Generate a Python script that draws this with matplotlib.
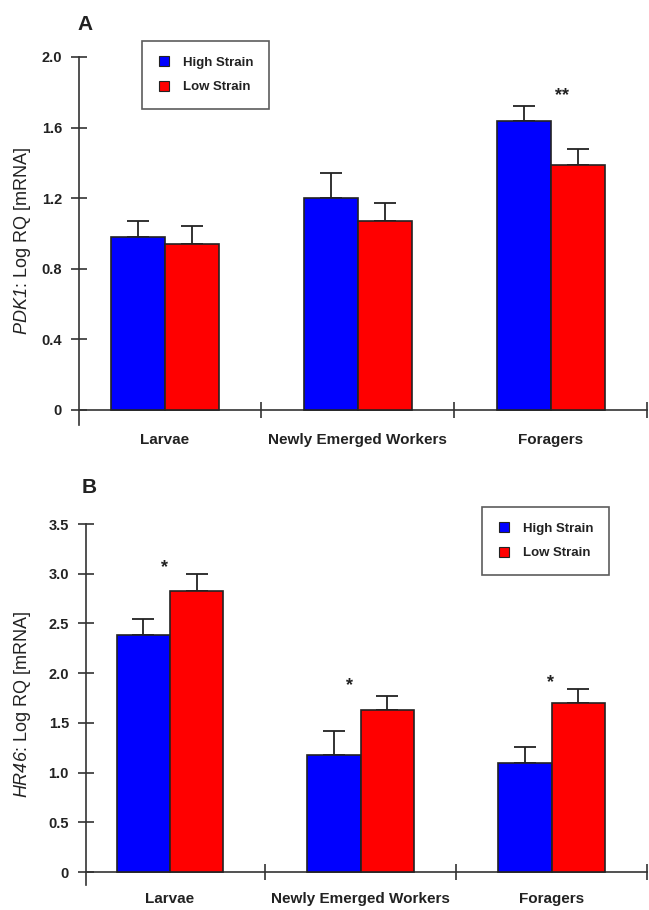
import numpy as np
import matplotlib.pyplot as plt
from matplotlib.lines import Line2D
from matplotlib.ticker import FuncFormatter

plt.rcParams['font.family'] = ['Liberation Sans', 'DejaVu Sans']
# gene names are set fully in italic, digits included
plt.rcParams['mathtext.fontset'] = 'custom'
plt.rcParams['mathtext.rm'] = 'Liberation Sans:italic'
plt.rcParams['mathtext.it'] = 'Liberation Sans:italic'
plt.rcParams['mathtext.bf'] = 'Liberation Sans:bold'

groups = ['Larvae', 'Newly Emerged Workers', 'Foragers']
strains = ['High Strain', 'Low Strain']

# PDK1 expression (log RQ) with upper SE
pdk1_high = [0.98, 1.20, 1.64]
pdk1_high_err = [0.09, 0.14, 0.08]
pdk1_low = [0.94, 1.07, 1.39]
pdk1_low_err = [0.10, 0.10, 0.09]

# HR46 expression (log RQ) with upper SE
hr46_high = [2.38, 1.18, 1.10]
hr46_high_err = [0.16, 0.24, 0.16]
hr46_low = [2.83, 1.63, 1.70]
hr46_low_err = [0.17, 0.14, 0.14]

# significance marks: (group position, height, text)
pdk1_marks = [(2.06, 1.78, '**')]
hr46_marks = [(-0.03, 3.06, '*'), (0.94, 1.88, '*'), (1.995, 1.91, '*')]

blue = '#0000ff'
red = '#ff0000'
ink = '#222222'
width = 0.28


def draw_panel(ax, high, high_err, low, low_err, marks, yticks, ymin, xmin, label_pad):
    x = np.arange(len(groups))
    ax.bar(x - width / 2, high, width, color=blue, edgecolor=ink, linewidth=1.2, zorder=3)
    ax.bar(x + width / 2, low, width, color=red, edgecolor=ink, linewidth=1.2, zorder=3)
    zeros = np.zeros(len(groups))
    ax.errorbar(x - width / 2, high, yerr=[zeros, high_err], fmt='none', ecolor=ink,
                elinewidth=1.3, capsize=8, capthick=1.3, zorder=2)
    ax.errorbar(x + width / 2, low, yerr=[zeros, low_err], fmt='none', ecolor=ink,
                elinewidth=1.3, capsize=8, capthick=1.3, zorder=2)
    for mx, my, txt in marks:
        ax.text(mx, my, txt, ha='center', va='center', fontsize=13, fontweight='bold', color=ink)

    ax.set_xlim(xmin, 2.5)
    ax.set_ylim(ymin, yticks[-1])
    for s in ['top', 'right']:
        ax.spines[s].set_visible(False)
    ax.spines['bottom'].set_position(('data', 0))
    for s in ['left', 'bottom']:
        ax.spines[s].set_color('#333333')
        ax.spines[s].set_linewidth(1.2)

    ax.set_yticks(yticks)
    ax.yaxis.set_major_formatter(FuncFormatter(lambda v, p: '0' if v == 0 else f'{v:.1f}'))
    ax.tick_params(axis='y', direction='inout', length=11.5, width=1.2, color='#333333',
                   pad=6.5, labelsize=10.5, labelcolor=ink)
    ax.set_xticks(x)
    ax.set_xticklabels(groups)
    ax.set_xticks([0.5, 1.5, 2.5], minor=True)
    ax.tick_params(axis='x', which='major', length=0, pad=label_pad, labelsize=11, labelcolor=ink)
    ax.tick_params(axis='x', which='minor', direction='inout', length=12, width=1.2, color='#333333')
    for t in ax.get_xticklabels() + ax.get_yticklabels():
        t.set_fontweight('bold')


def add_legend(ax, anchor):
    handles = [Line2D([], [], linestyle='none', marker='s', markersize=6.5,
                      markerfacecolor=c, markeredgecolor=ink, markeredgewidth=0.8)
               for c in (blue, red)]
    leg = ax.legend(handles, strains, loc='upper left', bbox_to_anchor=anchor,
                    bbox_transform=ax.figure.transFigure, borderaxespad=0,
                    frameon=True, fancybox=False, handlelength=1.0, handletextpad=0.9,
                    borderpad=1.2, labelspacing=0.9, prop={'weight': 'bold', 'size': 9.5})
    leg.get_frame().set_edgecolor('#333333')
    leg.get_frame().set_linewidth(1.2)
    for t in leg.get_texts():
        t.set_color(ink)


fig = plt.figure(figsize=(6.49, 9.10), dpi=100)
W, H = 649, 910

ax_a = fig.add_axes([79 / W, 1 - 425 / H, 568 / W, 368 / H])
draw_panel(ax_a, pdk1_high, pdk1_high_err, pdk1_low, pdk1_low_err, pdk1_marks,
           [0, 0.4, 0.8, 1.2, 1.6, 2.0], -0.085, -0.446, 16.5)
ax_a.set_ylabel('$\\mathrm{PDK1}$: Log RQ [mRNA]', fontsize=13, color=ink)
ax_a.yaxis.set_label_coords(-0.081, 0.5)
add_legend(ax_a, (142 / W, 1 - 41 / H))

ax_b = fig.add_axes([86 / W, 1 - 885 / H, 561 / W, 361 / H])
draw_panel(ax_b, hr46_high, hr46_high_err, hr46_low, hr46_low_err, hr46_marks,
           [0, 0.5, 1.0, 1.5, 2.0, 2.5, 3.0, 3.5], -0.13, -0.44, 14.5)
ax_b.set_ylabel('$\\mathrm{HR46}$: Log RQ [mRNA]', fontsize=13, color=ink)
ax_b.yaxis.set_label_coords(-0.0945, 0.5)
add_legend(ax_b, (482 / W, 1 - 507 / H))

fig.text(77 / W, 1 - 30 / H, 'A', fontsize=15, fontweight='bold', color=ink, va='baseline')
fig.text(82 / W, 1 - 493 / H, 'B', fontsize=15, fontweight='bold', color=ink, va='baseline')

fig.savefig('out.png', dpi=100)
